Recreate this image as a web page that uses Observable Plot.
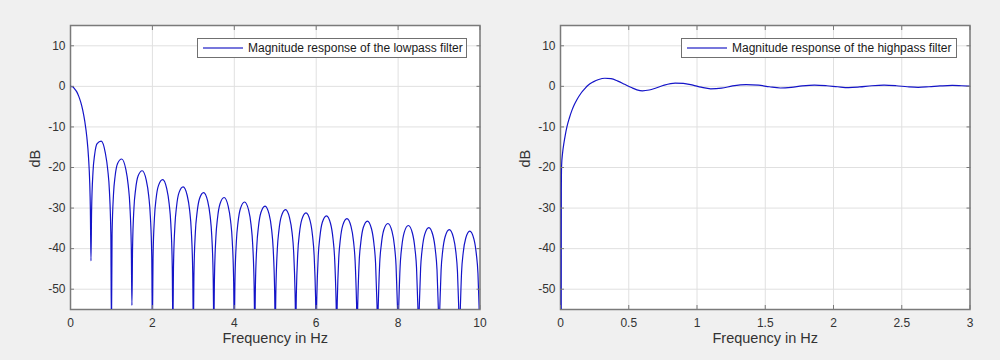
<!DOCTYPE html>
<html>
<head>
<meta charset="utf-8">
<script src="https://cdn.jsdelivr.net/npm/d3@7"></script>
<script src="https://cdn.jsdelivr.net/npm/@observablehq/plot@0.6"></script>
<style>
  html, body { margin: 0; padding: 0; background: #f0f0f0; }
  #fig { position: relative; width: 1000px; height: 360px; background: #f0f0f0; font-family: "Liberation Sans", Arial, sans-serif; overflow: hidden; }
  .panel { position: absolute; top: 0; }
  .legend { position: absolute; top: 38px; height: 20px; box-sizing: border-box; border: 1px solid #707070; background: #fff; font-size: 12px; color: #1a1a1a; display: flex; align-items: center; white-space: nowrap; }
  .legend svg { margin-left: 5px; margin-right: 5px; }
</style>
</head>
<body>
<div id="fig">
  <div id="left" class="panel" style="left:0px"></div>
  <div id="right" class="panel" style="left:490px"></div>
  <div class="legend" style="left:197px;width:270px"><svg width="40" height="4"><line x1="0" y1="2" x2="40" y2="2" stroke="#4a4ad0" stroke-width="1.6"/></svg><span>Magnitude response of the lowpass filter</span></div>
  <div class="legend" style="left:681px;width:276px"><svg width="40" height="4"><line x1="0" y1="2" x2="40" y2="2" stroke="#4a4ad0" stroke-width="1.6"/></svg><span>Magnitude response of the highpass filter</span></div>
</div>
<script>
// ---------- data ----------
// Lowpass: main lobe (0 – 0.5 Hz)
const mainLobeHz = [0, 0.05, 0.1, 0.15, 0.2, 0.25, 0.3, 0.35, 0.4, 0.44, 0.47, 0.485, 0.5];
const mainLobeDb = [0, -0.1, -0.6, -1.3, -2.4, -3.9, -5.9, -8.7, -12.6, -17.5, -23.9, -30.2, -43];

// Lowpass side lobes: each lobe starts at a null and is sampled at the same offsets
const sidelobeStartHz = [0.5, 1, 1.5, 2, 2.5, 3, 3.5, 4, 4.5, 5, 5.5, 6, 6.5, 7, 7.5, 8, 8.5, 9, 9.5];
const lobeOffsetHz = [0.015, 0.05, 0.09, 0.15, 0.25, 0.35, 0.41, 0.45, 0.485, 0.5];
const sidelobeDb = [
  [-30.7, -21.0, -16.8, -14.1, -13.5, -16.4, -20.6, -25.7, -36.4, -60],
  [-36.6, -26.6, -22.1, -19.0, -17.9, -20.4, -24.4, -29.4, -39.9, -54],
  [-40.1, -29.9, -25.4, -22.1, -20.8, -23.1, -27.0, -32.0, -42.4, -60],
  [-42.5, -32.4, -27.7, -24.4, -23.0, -25.2, -29.0, -33.9, -44.4, -60],
  [-44.5, -34.3, -29.6, -26.2, -24.8, -26.9, -30.6, -35.6, -46.0, -60],
  [-46.0, -35.8, -31.2, -27.7, -26.2, -28.3, -32.0, -36.9, -47.3, -60],
  [-47.4, -37.2, -32.5, -29.0, -27.4, -29.5, -33.2, -38.1, -48.5, -60],
  [-48.5, -38.3, -33.6, -30.1, -28.5, -30.5, -34.2, -39.1, -49.5, -60],
  [-49.5, -39.3, -34.6, -31.1, -29.5, -31.5, -35.2, -40.1, -50.4, -60],
  [-50.5, -40.2, -35.5, -32.0, -30.4, -32.4, -36.0, -40.9, -51.3, -60],
  [-51.3, -41.1, -36.3, -32.8, -31.2, -33.1, -36.8, -41.7, -52.0, -60],
  [-52.0, -41.8, -37.1, -33.5, -31.9, -33.8, -37.5, -42.4, -52.7, -60],
  [-52.7, -42.5, -37.7, -34.2, -32.6, -34.5, -38.1, -43.0, -53.3, -60],
  [-53.4, -43.1, -38.4, -34.8, -33.2, -35.1, -38.8, -43.6, -53.9, -60],
  [-54.0, -43.7, -39.0, -35.4, -33.8, -35.7, -39.3, -44.2, -54.5, -60],
  [-54.5, -44.3, -39.5, -36.0, -34.3, -36.2, -39.9, -44.7, -55.0, -60],
  [-55.1, -44.8, -40.0, -36.5, -34.8, -36.7, -40.4, -45.2, -55.5, -60],
  [-55.6, -45.3, -40.5, -37.0, -35.3, -37.2, -40.8, -45.7, -56.0, -60],
  [-56.0, -45.8, -41.0, -37.5, -35.7, -37.6, -41.3, -46.1, -56.5, -60]
];

// Highpass response
const highHz = [0.005, 0.006, 0.008, 0.015, 0.025, 0.035, 0.047, 0.065, 0.085, 0.1, 0.12, 0.15, 0.18, 0.2, 0.24, 0.28, 0.325, 0.37, 0.42, 0.47, 0.52, 0.56, 0.6, 0.65, 0.7, 0.76, 0.84, 0.9, 0.97, 1.03, 1.1, 1.18, 1.26, 1.36, 1.45, 1.53, 1.61, 1.69, 1.77, 1.86, 1.95, 2.03, 2.11, 2.19, 2.28, 2.37, 2.46, 2.54, 2.62, 2.7, 2.78, 2.87, 2.94, 3.0];
const highDb = [-60, -26, -19.5, -16.5, -14, -12, -10, -7.8, -5.8, -4.6, -3.3, -1.7, -0.5, 0.2, 1.1, 1.7, 2.0, 1.9, 1.3, 0.5, -0.3, -0.85, -1.1, -0.9, -0.4, 0.3, 0.8, 0.75, 0.3, -0.2, -0.6, -0.45, 0.1, 0.45, 0.3, -0.1, -0.4, -0.25, 0.1, 0.3, 0.15, -0.1, -0.3, -0.15, 0.15, 0.3, 0.15, -0.1, -0.25, -0.1, 0.1, 0.25, 0.15, 0.05];

// Axes
const yTicks = [-50, -40, -30, -20, -10, 0, 10];
const yDomain = [-55, 15];
const lowXTicks = [0, 2, 4, 6, 8, 10];
const lowXDomain = [0, 10];
const highXTicks = [0, 0.5, 1, 1.5, 2, 2.5, 3];
const highXDomain = [0, 3];

// ---------- tables ----------
const lowRows = mainLobeHz.map((hz, i) => ({hz, db: mainLobeDb[i]}));
sidelobeStartHz.forEach((start, k) => {
  lobeOffsetHz.forEach((off, i) => lowRows.push({hz: start + off, db: sidelobeDb[k][i]}));
});
const highRows = highHz.map((hz, i) => ({hz, db: highDb[i]}));

const LINE = "#1414c8";
const AXIS = "#7a7a7a";
const TEXT = "#333333";
const plain = d => String(d);

function panel(rows, xDomain, xTicks) {
  return Plot.plot({
    width: 500,
    height: 360,
    marginLeft: 70,
    marginRight: 20.5,
    marginTop: 25,
    marginBottom: 51,
    style: {background: "transparent", fontFamily: "'Liberation Sans', Arial, sans-serif", fontSize: "12px", color: TEXT},
    x: {domain: xDomain},
    y: {domain: yDomain},
    marks: [
      Plot.frame({fill: "white", stroke: null}),
      Plot.gridX({ticks: xTicks, stroke: "#e0e0e0", strokeOpacity: 1}),
      Plot.gridY({ticks: yTicks, stroke: "#e0e0e0", strokeOpacity: 1}),
      Plot.frame({stroke: AXIS, strokeWidth: 1.5}),
      Plot.line(rows, {x: "hz", y: "db", stroke: LINE, strokeWidth: 1.2, curve: "monotone-x", clip: true}),
      Plot.axisX({ticks: xTicks, anchor: "bottom", tickSize: 0, tickPadding: 9, tickFormat: plain, label: null, fill: TEXT}),
      Plot.axisX({ticks: xTicks, anchor: "bottom", tickSize: -4, tickFormat: () => "", label: null, stroke: AXIS}),
      Plot.axisX({ticks: xTicks, anchor: "top", tickSize: -4, tickFormat: () => "", label: null, stroke: AXIS}),
      Plot.axisY({ticks: yTicks, anchor: "left", tickSize: 0, tickPadding: 5, tickFormat: plain, label: null, fill: TEXT}),
      Plot.axisY({ticks: yTicks, anchor: "left", tickSize: -4, tickFormat: () => "", label: null, stroke: AXIS}),
      Plot.axisY({ticks: yTicks, anchor: "right", tickSize: -4, tickFormat: () => "", label: null, stroke: AXIS}),
      Plot.text(["dB"], {frameAnchor: "left", dx: -35, rotate: -90, fontSize: 14.5, fill: TEXT}),
      Plot.text(["Frequency in Hz"], {frameAnchor: "bottom", dy: 33, fontSize: 14.5, fill: TEXT})
    ]
  });
}

document.getElementById("left").append(panel(lowRows, lowXDomain, lowXTicks));
document.getElementById("right").append(panel(highRows, highXDomain, highXTicks));
</script>
</body>
</html>
